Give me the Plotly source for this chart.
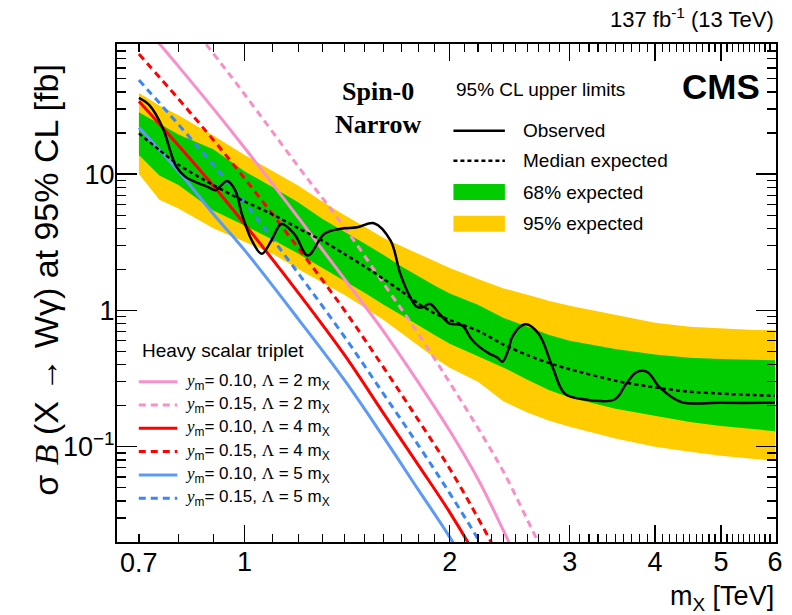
import math
import plotly.graph_objects as go

# ---------------- data ----------------
# expected limits (fb) vs resonance mass (TeV)
mass = [0.7, 0.75, 0.8, 0.9, 1.0, 1.1, 1.2, 1.3, 1.4, 1.5, 1.6, 1.7, 1.8, 1.9,
        2.0, 2.2, 2.4, 2.6, 2.8, 3.0, 3.5, 4.0, 4.5, 5.0, 5.5, 6.0]
exp_p2 = [39.3, 31.8, 27.0, 19.2, 13.8, 10.5, 8.2, 6.3, 5.0, 4.1, 3.4, 2.95, 2.6, 2.3,
          2.05, 1.7, 1.45, 1.3, 1.17, 1.08, 0.92, 0.81, 0.76, 0.735, 0.72, 0.714]
exp_p1 = [28.4, 23.3, 19.5, 15.2, 10.5, 8.0, 6.2, 4.7, 3.8, 3.1, 2.55, 2.1, 1.78, 1.52,
          1.33, 1.1, 0.88, 0.76, 0.66, 0.6, 0.52, 0.475, 0.45, 0.44, 0.435, 0.43]
exp_med = [19.9, 15.0, 11.7, 8.3, 6.3, 5.05, 4.0, 3.25, 2.6, 2.1, 1.7, 1.38, 1.12, 0.95,
           0.85, 0.71, 0.56, 0.47, 0.41, 0.37, 0.305, 0.272, 0.253, 0.245, 0.24, 0.236]
exp_m1 = [13.8, 9.75, 8.3, 5.4, 4.2, 3.3, 2.6, 2.05, 1.65, 1.35, 1.1, 0.92, 0.78, 0.66,
          0.57, 0.46, 0.38, 0.31, 0.26, 0.23, 0.19, 0.168, 0.152, 0.142, 0.135, 0.13]
exp_m2 = [10.0, 6.47, 5.6, 4.0, 3.2, 2.6, 2.0, 1.6, 1.3, 1.05, 0.85, 0.68, 0.55, 0.45,
          0.38, 0.30, 0.215, 0.178, 0.155, 0.14, 0.115, 0.10, 0.092, 0.086, 0.082, 0.0787]

# observed limit
obs_mass = [0.70, 0.725, 0.758, 0.793, 0.82, 0.85, 0.886, 0.906, 0.943, 0.969, 0.991,
            1.025, 1.06, 1.095, 1.133, 1.185, 1.238, 1.31, 1.385, 1.464, 1.548, 1.637,
            1.692, 1.75, 1.79, 1.83, 1.87, 1.93, 2.0, 2.05, 2.09, 2.15, 2.21, 2.29,
            2.35, 2.39, 2.44, 2.47, 2.58, 2.70, 2.83, 2.95, 3.16, 3.49, 3.63, 3.76,
            3.90, 4.06, 4.37, 5.0, 6.0]
obs_limit = [36.2, 32.0, 22.0, 11.5, 9.5, 8.7, 8.0, 7.6, 8.9, 7.6, 5.1,
             3.26, 2.6, 3.26, 4.3, 3.6, 2.53, 3.65, 3.97, 4.07, 4.36, 3.26,
             1.86, 1.25, 1.06, 1.06, 1.12, 0.95, 0.80, 0.79, 0.77, 0.62, 0.54, 0.48,
             0.45, 0.42, 0.52, 0.64, 0.79, 0.675, 0.384, 0.245, 0.222, 0.222, 0.29, 0.353,
             0.353, 0.274, 0.213, 0.21, 0.21]

# heavy scalar triplet predictions
th_mass = [0.7, 0.8, 0.9, 1.0, 1.2, 1.4, 1.6, 1.8, 2.0, 2.2, 2.4, 2.6, 2.8]
th_y10_L2 = [136, 61.7, 30.2, 15.6, 4.77, 1.71, 0.70, 0.295, 0.131, 0.058, 0.024, 0.0102, 0.0043]
th_y15_L2 = [374, 162, 76.6, 38.5, 11.3, 4.1, 1.57, 0.67, 0.295, 0.137, 0.065, 0.029, 0.0135]
th_y10_L4 = [34.2, 16.2, 8.2, 4.3, 1.34, 0.475, 0.175, 0.073, 0.033, 0.0148, 0.0065, 0.0029, 0.0013]
th_y15_L4 = [76, 35.6, 17.8, 9.3, 2.85, 1.01, 0.38, 0.156, 0.069, 0.030, 0.0133, 0.0058, 0.0025]
th_y10_L5 = [22.0, 10.5, 5.1, 2.77, 0.86, 0.31, 0.117, 0.048, 0.0217, 0.0097, 0.0043, 0.0019, 0.0008]
th_y15_L5 = [49, 23.1, 11.7, 6.2, 1.86, 0.645, 0.243, 0.102, 0.0455, 0.021, 0.0095, 0.0041, 0.0018]

x_major = [1, 2, 3, 4, 5, 6]
x_labels = ["1", "2", "3", "4", "5", "6"]
x_minor = [0.7, 0.8, 0.9] + [round(1 + 0.1 * i, 1) for i in range(1, 10)] + \
          [round(2 + 0.1 * i, 1) for i in range(1, 10)] + \
          [round(3 + 0.1 * i, 1) for i in range(1, 10)] + \
          [round(4 + 0.1 * i, 1) for i in range(1, 10)] + \
          [round(5 + 0.1 * i, 1) for i in range(1, 10)]
y_major = [0.1, 1, 10]
y_labels = ["10<sup>\u22121</sup>", "1", "10"]
y_minor = [k * 0.01 for k in range(2, 10)] + [k * 0.1 for k in range(2, 10)] + \
          [k * 1.0 for k in range(2, 10)] + [k * 10.0 for k in range(2, 10)]

# ---------------- styling ----------------
SANS = "Liberation Sans, Arial, Helvetica, sans-serif"
SERIF = "Liberation Serif, Times New Roman, serif"
GREEN = "#00cc00"
YELLOW = "#ffcc00"
PINK = "#f98fc8"
RED = "#ff0000"
BLUE = "#5b9bf5"
BLUE_D = "#3a86f7"

W, H = 792, 615
L, R, T, B = 117, 783, 44, 542


def px(xp):
    return (xp - L) / (R - L)


def py(yp):
    return (B - yp) / (B - T)


fig = go.Figure()

# bands
fig.add_trace(go.Scatter(x=mass + mass[::-1], y=exp_p2 + exp_m2[::-1], mode="lines",
                         fill="toself", fillcolor=YELLOW, line=dict(width=0),
                         hoverinfo="skip", showlegend=False))
fig.add_trace(go.Scatter(x=mass + mass[::-1], y=exp_p1 + exp_m1[::-1], mode="lines",
                         fill="toself", fillcolor=GREEN, line=dict(width=0),
                         hoverinfo="skip", showlegend=False))

DASH = "7px,5px"
theory = [
    (th_y10_L2, PINK, "solid"),
    (th_y15_L2, PINK, DASH),
    (th_y10_L4, RED, "solid"),
    (th_y15_L4, RED, DASH),
    (th_y10_L5, BLUE, "solid"),
    (th_y15_L5, BLUE_D, DASH),
]
for vals, col, dash in theory:
    fig.add_trace(go.Scatter(x=th_mass, y=vals, mode="lines",
                             line=dict(color=col, width=3, dash=dash, shape="spline", smoothing=1.0),
                             hoverinfo="skip", showlegend=False))

fig.add_trace(go.Scatter(x=mass, y=exp_med, mode="lines",
                         line=dict(color="black", width=2.5, dash="4px,3px", shape="spline", smoothing=0.6),
                         hoverinfo="skip", showlegend=False))
fig.add_trace(go.Scatter(x=obs_mass, y=obs_limit, mode="lines",
                         line=dict(color="black", width=2.5, shape="spline", smoothing=1.0),
                         hoverinfo="skip", showlegend=False))

axis_common = dict(type="log", showline=True, linewidth=2, linecolor="black",
                   mirror="allticks", ticks="inside", tickcolor="black", tickwidth=1.3,
                   showgrid=False, zeroline=False,
                   tickfont=dict(family=SANS, size=27, color="black"))

fig.update_xaxes(**axis_common, range=[math.log10(0.65), math.log10(6.02)],
                 tickmode="array", tickvals=x_major, ticktext=x_labels, ticklen=17,
                 ticklabelstandoff=-5,
                 minor=dict(tickmode="array", tickvals=x_minor, ticklen=8, tickwidth=1.2,
                            tickcolor="black", ticks="inside", showgrid=False))
fig.update_yaxes(**axis_common, range=[math.log10(0.02), math.log10(90)],
                 tickmode="array", tickvals=y_major, ticktext=y_labels, ticklen=20,
                 ticklabelstandoff=-5,
                 minor=dict(tickmode="array", tickvals=y_minor, ticklen=9, tickwidth=1.2,
                            tickcolor="black", ticks="inside", showgrid=False))

ann = []
shapes = []

# label for 0.7 (short tick, so label drawn separately)
ann.append(dict(x=math.log10(0.7), xref="x", y=py(546), yref="paper", text="0.7",
                showarrow=False, xanchor="center", yanchor="top",
                font=dict(family=SANS, size=27, color="black")))

# axis titles
ann.append(dict(x=px(45), y=py(62), xref="paper", yref="paper", textangle=-90,
                text="\u03c3 <span style='font-family:Liberation Serif'><i>B</i></span> (X \u2192 W\u03b3) at 95% CL [fb]",
                showarrow=False, xanchor="center", yanchor="top",
                font=dict(family=SANS, size=34, color="black")))
ann.append(dict(x=px(783), y=py(598), xref="paper", yref="paper",
                text="m<sub>X</sub> [TeV]", showarrow=False, xanchor="right", yanchor="middle",
                font=dict(family=SANS, size=27, color="black")))
ann.append(dict(x=px(783), y=py(18), xref="paper", yref="paper",
                text="137 fb<sup>-1</sup> (13 TeV)", showarrow=False, xanchor="right", yanchor="middle",
                font=dict(family=SANS, size=22, color="black")))
ann.append(dict(x=px(769), y=py(87), xref="paper", yref="paper",
                text="<b>CMS</b>", showarrow=False, xanchor="right", yanchor="middle",
                font=dict(family=SANS, size=35, color="black")))
ann.append(dict(x=px(381), y=py(92), xref="paper", yref="paper",
                text="<b>Spin-0</b>", showarrow=False, xanchor="center", yanchor="middle",
                font=dict(family=SERIF, size=26, color="black")))
ann.append(dict(x=px(381), y=py(124), xref="paper", yref="paper",
                text="<b>Narrow</b>", showarrow=False, xanchor="center", yanchor="middle",
                font=dict(family=SERIF, size=26, color="black")))

# upper legend
ann.append(dict(x=px(458), y=py(89), xref="paper", yref="paper",
                text="95% CL upper limits", showarrow=False, xanchor="left", yanchor="middle",
                font=dict(family=SANS, size=19, color="black")))
up_rows = [(130.7, "Observed", "line", "solid"),
           (160.7, "Median expected", "line", "4px,3px"),
           (192.0, "68% expected", "box", GREEN),
           (223.7, "95% expected", "box", YELLOW)]
for yrow, label, kind, sty in up_rows:
    if kind == "line":
        shapes.append(dict(type="line", xref="paper", yref="paper",
                           x0=px(457), x1=px(509), y0=py(yrow), y1=py(yrow),
                           line=dict(color="black", width=2.5, dash=sty)))
    else:
        shapes.append(dict(type="rect", xref="paper", yref="paper",
                           x0=px(457), x1=px(509), y0=py(yrow - 8), y1=py(yrow + 8),
                           fillcolor=sty, line=dict(width=0)))
    ann.append(dict(x=px(525), y=py(yrow), xref="paper", yref="paper", text=label,
                    showarrow=False, xanchor="left", yanchor="middle",
                    font=dict(family=SANS, size=19, color="black")))

# lower legend
ann.append(dict(x=px(140), y=py(350), xref="paper", yref="paper",
                text="Heavy scalar triplet", showarrow=False, xanchor="left", yanchor="middle",
                font=dict(family=SANS, size=19, color="black")))
low_rows = [("0.10", "2", PINK, "solid"), ("0.15", "2", PINK, DASH),
            ("0.10", "4", RED, "solid"), ("0.15", "4", RED, DASH),
            ("0.10", "5", BLUE, "solid"), ("0.15", "5", BLUE_D, DASH)]
for i, (ym, lam, col, dash) in enumerate(low_rows):
    yrow = 381.7 + 23.3 * i
    shapes.append(dict(type="line", xref="paper", yref="paper",
                       x0=px(139), x1=px(178), y0=py(yrow), y1=py(yrow),
                       line=dict(color=col, width=3, dash=dash)))
    txt = ("<span style='font-family:Liberation Serif'><i>y</i></span><sub>m</sub>= " + ym +
           ", <span style='font-family:Liberation Serif'>\u039b</span> = " + lam + " m<sub>X</sub>")
    ann.append(dict(x=px(184), y=py(yrow), xref="paper", yref="paper", text=txt,
                    showarrow=False, xanchor="left", yanchor="middle",
                    font=dict(family=SANS, size=17, color="black")))

fig.update_layout(width=W, height=H, margin=dict(l=L, r=W - R, t=T, b=H - B),
                  paper_bgcolor="white", plot_bgcolor="white", showlegend=False,
                  annotations=ann, shapes=shapes,
                  font=dict(family=SANS, color="black"))

fig.write_html("out.html", config={"displayModeBar": False, "staticPlot": True},
               post_script="document.body.style.margin='0';document.body.style.padding='0';"
                           "document.body.style.overflow='hidden';")
